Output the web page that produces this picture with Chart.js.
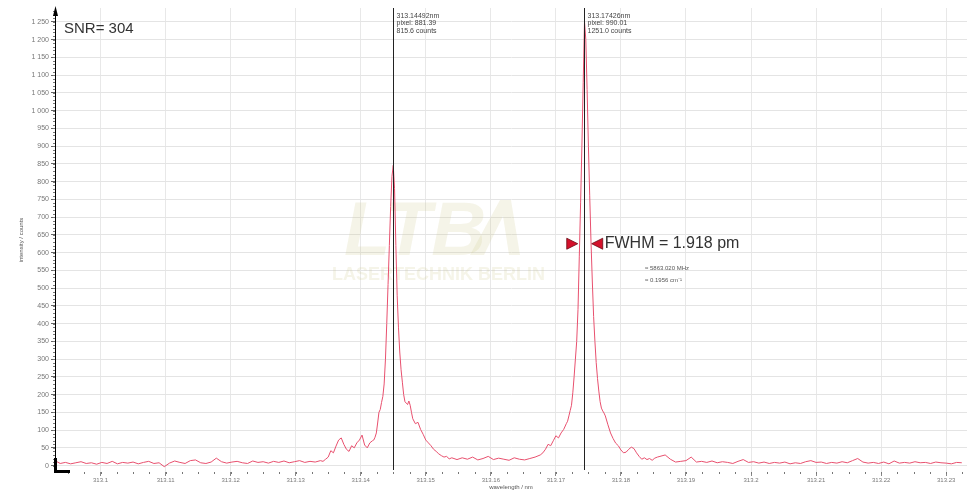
<!DOCTYPE html>
<html>
<head>
<meta charset="utf-8">
<script src="https://cdn.jsdelivr.net/npm/chart.js@4.4.1/dist/chart.umd.min.js"></script>
<style>
  html, body { margin: 0; padding: 0; background: #fff; }
  #wrap { width: 970px; height: 491px; }
</style>
</head>
<body>
<div id="wrap"><canvas id="spec"></canvas></div>
<script>
// spectrum: wavelength (nm) and intensity (counts)
const wavelengths = [
  313.0930, 313.0938, 313.0946, 313.0954, 313.0962, 313.0970, 313.0978, 313.0986, 313.0994, 313.1002,
  313.1010, 313.1018, 313.1026, 313.1034, 313.1042, 313.1050, 313.1058, 313.1066, 313.1074, 313.1082,
  313.1090, 313.1098, 313.1106, 313.1114, 313.1122, 313.1130, 313.1138, 313.1146, 313.1154, 313.1162,
  313.1170, 313.1178, 313.1186, 313.1194, 313.1202, 313.1210, 313.1218, 313.1226, 313.1234, 313.1242,
  313.1250, 313.1258, 313.1266, 313.1274, 313.1282, 313.1290, 313.1298, 313.1306, 313.1314, 313.1322,
  313.1330,
  313.1338, 313.1342, 313.1346, 313.1350, 313.1354, 313.1358, 313.1362, 313.1366, 313.1370, 313.1374,
  313.1378, 313.1382, 313.1386, 313.1390, 313.1394, 313.1398, 313.1402, 313.1406, 313.1410, 313.1414,
  313.1418,
  313.1420, 313.1422, 313.1424, 313.1426, 313.1428, 313.1430, 313.1432, 313.1434, 313.1436, 313.1438,
  313.1440, 313.1442, 313.1444, 313.1446, 313.1448, 313.1450, 313.1452, 313.1454, 313.1456, 313.1458,
  313.1460, 313.1462, 313.1464, 313.1466, 313.1468, 313.1470, 313.1472, 313.1474, 313.1476, 313.1478,
  313.1480,
  313.1484, 313.1488, 313.1492, 313.1496, 313.1500, 313.1504, 313.1508, 313.1512, 313.1516, 313.1520,
  313.1524, 313.1528, 313.1532, 313.1536, 313.1540,
  313.1548, 313.1556, 313.1564, 313.1572, 313.1580, 313.1588, 313.1596, 313.1604, 313.1612, 313.1620,
  313.1628, 313.1636, 313.1644, 313.1652, 313.1660, 313.1668, 313.1676,
  313.1680, 313.1684, 313.1688, 313.1692, 313.1696, 313.1700, 313.1704, 313.1708, 313.1712, 313.1716,
  313.1718, 313.1720, 313.1722, 313.1724, 313.1726, 313.1728, 313.1730, 313.1732, 313.1734, 313.1736,
  313.1738, 313.1740, 313.1742, 313.1744, 313.1746, 313.1748, 313.1750, 313.1752, 313.1754, 313.1756,
  313.1758, 313.1760, 313.1762, 313.1764, 313.1766, 313.1768, 313.1770, 313.1772, 313.1774, 313.1776,
  313.1780, 313.1784, 313.1788, 313.1792, 313.1796, 313.1800, 313.1804, 313.1808, 313.1812, 313.1816,
  313.1820, 313.1824, 313.1828, 313.1832, 313.1836, 313.1840, 313.1844, 313.1848, 313.1852, 313.1856,
  313.1860,
  313.1868, 313.1876, 313.1884, 313.1892, 313.1900, 313.1908, 313.1916, 313.1924, 313.1932, 313.1940,
  313.1948, 313.1956, 313.1964, 313.1972, 313.1980, 313.1988, 313.1996, 313.2004, 313.2012, 313.2020,
  313.2028, 313.2036, 313.2044, 313.2052, 313.2060, 313.2068, 313.2076, 313.2084, 313.2092, 313.2100,
  313.2108, 313.2116, 313.2124, 313.2132, 313.2140, 313.2148, 313.2156, 313.2164, 313.2172, 313.2180,
  313.2188, 313.2196, 313.2204, 313.2212, 313.2220, 313.2228, 313.2236, 313.2244, 313.2252, 313.2260,
  313.2268, 313.2276, 313.2284, 313.2292, 313.2300, 313.2308, 313.2316, 313.2324
];
const counts = [
  14, 6, 9, 5, 8, 11, 6, 8, 4, 9,
  6, 12, 5, 9, 7, 10, 5, 9, 12, 6,
  8, -3, 7, 13, 9, 6, 14, 16, 8, 6,
  10, 21, 11, 7, 10, 12, 8, 6, 13, 9,
  11, 7, 12, 9, 13, 8, 11, 14, 9, 12,
  10,
  14, 12, 18, 24, 42, 36, 55, 72, 78, 60,
  46, 40, 56, 50, 64, 72, 86, 58, 50, 64,
  70,
  72, 80, 92, 120, 150, 158, 178, 195, 230, 300,
  400, 510, 620, 730, 815, 846, 780, 620, 480, 390,
  320, 270, 235, 200, 180, 176, 172, 182, 170, 150,
  132,
  118, 122, 102, 88, 72, 64, 56, 46, 40, 33,
  28, 24, 26, 19, 22,
  17, 22, 18, 24, 16, 20, 26, 17, 21, 18,
  15, 22, 18, 16, 20, 24, 30,
  36, 46, 60, 56, 70, 84, 78, 92, 102, 118,
  125, 140, 155, 170, 205, 250, 300, 350, 440, 590,
  740, 900, 1080, 1251, 1200, 1060, 900, 760, 630, 520,
  420, 350, 290, 245, 210, 180, 162, 154, 148, 140,
  115, 92, 76, 63, 56, 44, 36, 38, 46, 52,
  48, 36, 26, 18, 22, 17, 20, 15, 21, 24,
  26,
  30, 18, 10, 12, 14, 24, 10, 12, 9, 13,
  8, 11, 9, 6, 12, 17, 9, 11, 7, 10,
  6, 9, 7, 10, 5, 8, 6, 11, 14, 9,
  10, 6, 9, 7, 11, 8, 14, 20, 10, 7,
  9, 6, 10, 5, 13, 7, 9, 7, 11, 8,
  9, 6, 10, 8, 7, 5, 9, 8
];

const xTicks = [313.10, 313.11, 313.12, 313.13, 313.14, 313.15, 313.16, 313.17, 313.18, 313.19, 313.20, 313.21, 313.22, 313.23];
const yTicks = [0, 50, 100, 150, 200, 250, 300, 350, 400, 450, 500, 550, 600, 650, 700, 750, 800, 850, 900, 950, 1000, 1050, 1100, 1150, 1200, 1250];

// peak markers
const peakNm = [313.14492, 313.17426];
const peakPixel = ['881.39', '990.01'];
const peakCounts = ['815.6', '1251.0'];

// FWHM of the strong line
const fwhmEdges = [313.17336, 313.17520];
const fwhmLevel = 625;

const snrText = 'SNR= 304';
const fwhmText = 'FWHM = 1.918 pm';

const points = wavelengths.map((w, i) => ({ x: w, y: counts[i] }));

const smallFont = "'Liberation Sans Narrow', 'Liberation Sans', sans-serif";
const mainFont = "'Liberation Sans', Arial, sans-serif";

function fmtCount(v) {
  if (v >= 1000) return '1 ' + String(v - 1000).padStart(3, '0');
  return String(v);
}

const watermark = {
  id: 'watermark',
  beforeDatasetsDraw(chart) {
    const { ctx } = chart;
    ctx.save();
    ctx.fillStyle = 'rgba(205,198,140,0.2)';
    ctx.font = "italic bold 76px " + mainFont;
    ctx.textBaseline = 'alphabetic';
    ctx.fillText('LTB', 344, 255);
    ctx.beginPath();
    ctx.moveTo(470, 255); ctx.lineTo(500, 200); ctx.lineTo(511, 200); ctx.lineTo(520, 255);
    ctx.lineTo(509, 255); ctx.lineTo(503, 216); ctx.lineTo(484, 255);
    ctx.closePath();
    ctx.fill();
    ctx.font = "bold 18px " + mainFont;
    ctx.fillText('LASERTECHNIK BERLIN', 332, 280);
    ctx.restore();
  }
};

const overlay = {
  id: 'overlay',
  afterDatasetsDraw(chart) {
    const { ctx, chartArea } = chart;
    const xs = chart.scales.x, ys = chart.scales.y;
    ctx.save();

    // minor ticks
    ctx.strokeStyle = '#777';
    ctx.lineWidth = 1;
    ctx.beginPath();
    for (let v = 0; v <= 1280; v += 10) {
      const y = Math.round(ys.getPixelForValue(v)) + 0.5;
      ctx.moveTo(chartArea.left - 2, y); ctx.lineTo(chartArea.left, y);
    }
    for (let v = 313.0950; v < 313.233; v += 0.0025) {
      const x = Math.round(xs.getPixelForValue(v)) + 0.5;
      ctx.moveTo(x, chartArea.bottom); ctx.lineTo(x, chartArea.bottom + 2);
    }
    ctx.stroke();

    // y axis arrow and origin corner
    const ax = chartArea.left + 0.5;
    ctx.fillStyle = '#000';
    ctx.beginPath();
    ctx.moveTo(ax, chartArea.top - 2);
    ctx.lineTo(ax - 2.5, chartArea.top + 8);
    ctx.lineTo(ax + 2.5, chartArea.top + 8);
    ctx.closePath();
    ctx.fill();
    ctx.fillRect(chartArea.left - 1, chartArea.bottom - 14, 3, 15);
    ctx.fillRect(chartArea.left - 1, chartArea.bottom - 2, 16, 3);

    // peak marker lines and labels
    peakNm.forEach((nm, i) => {
      const x = Math.round(xs.getPixelForValue(nm)) + 0.5;
      ctx.strokeStyle = '#222';
      ctx.beginPath();
      ctx.moveTo(x, chartArea.top);
      ctx.lineTo(x, chartArea.bottom - 2);
      ctx.stroke();
      ctx.fillStyle = '#444';
      ctx.font = '7px ' + smallFont;
      ctx.textBaseline = 'middle';
      ctx.textAlign = 'left';
      ctx.fillText(nm.toFixed(5) + 'nm', x + 3, 16);
      ctx.fillText('pixel: ' + peakPixel[i], x + 3, 23.5);
      ctx.fillText(peakCounts[i] + ' counts', x + 3, 31);
    });

    // SNR
    ctx.fillStyle = '#333';
    ctx.font = '15px ' + mainFont;
    ctx.textBaseline = 'alphabetic';
    ctx.fillText(snrText, 64, 33);

    // FWHM markers
    const yl = ys.getPixelForValue(fwhmLevel);
    const xl = xs.getPixelForValue(fwhmEdges[0]);
    const xr = xs.getPixelForValue(fwhmEdges[1]);
    ctx.fillStyle = '#d4112b';
    ctx.strokeStyle = '#6a0a14';
    ctx.lineWidth = 0.8;
    ctx.beginPath();
    ctx.moveTo(xl, yl); ctx.lineTo(xl - 11, yl - 5.5); ctx.lineTo(xl - 11, yl + 5.5); ctx.closePath();
    ctx.fill(); ctx.stroke();
    ctx.beginPath();
    ctx.moveTo(xr + 2, yl); ctx.lineTo(xr + 13, yl - 5.5); ctx.lineTo(xr + 13, yl + 5.5); ctx.closePath();
    ctx.fill(); ctx.stroke();

    ctx.fillStyle = '#333';
    ctx.font = '16px ' + mainFont;
    ctx.textBaseline = 'middle';
    ctx.fillText(fwhmText, xr + 15, yl);

    ctx.fillStyle = '#555';
    ctx.font = '6px ' + smallFont;
    ctx.fillText('\u2248 5863.020 MHz', 645, 268);
    ctx.fillText('\u2248 0.1956 cm\u207B\u00B9', 645, 280);

    ctx.restore();
  }
};

new Chart(document.getElementById('spec'), {
  type: 'line',
  data: {
    datasets: [{
      data: points,
      borderColor: '#e8506e',
      borderWidth: 1,
      pointRadius: 0,
      tension: 0,
      fill: false
    }]
  },
  options: {
    responsive: true,
    maintainAspectRatio: false,
    animation: false,
    layout: { padding: { top: 8, right: 3, left: 18, bottom: 0 } },
    plugins: { legend: { display: false }, tooltip: { enabled: false } },
    scales: {
      x: {
        type: 'linear',
        min: 313.0930,
        max: 313.2332,
        afterBuildTicks: (s) => { s.ticks = xTicks.map(v => ({ value: v })); },
        afterFit: (s) => { s.height = 19; },
        border: { display: false },
        grid: { color: '#e8e8e8', tickColor: '#888', tickLength: 4 },
        ticks: {
          autoSkip: false,
          maxRotation: 0,
          padding: 1,
          color: '#777',
          font: { size: 6, family: smallFont },
          callback: (v) => String(+Number(v).toFixed(2))
        },
        title: {
          display: true,
          text: 'wavelength / nm',
          color: '#555',
          padding: 0,
          font: { size: 6, family: smallFont }
        }
      },
      y: {
        min: -18,
        max: 1289,
        afterBuildTicks: (s) => { s.ticks = yTicks.map(v => ({ value: v })); },
        afterFit: (s) => { s.width = 37; },
        border: { display: true, color: '#000', width: 1 },
        grid: { color: '#e4e4e4', tickColor: '#666', tickLength: 4 },
        ticks: {
          autoSkip: false,
          padding: 2,
          color: '#777',
          font: { size: 7, family: smallFont },
          callback: (v) => fmtCount(v)
        },
        title: {
          display: true,
          text: 'intensity / counts',
          color: '#555',
          padding: 0,
          font: { size: 6, family: smallFont }
        }
      }
    }
  },
  plugins: [watermark, overlay]
});
</script>
</body>
</html>
